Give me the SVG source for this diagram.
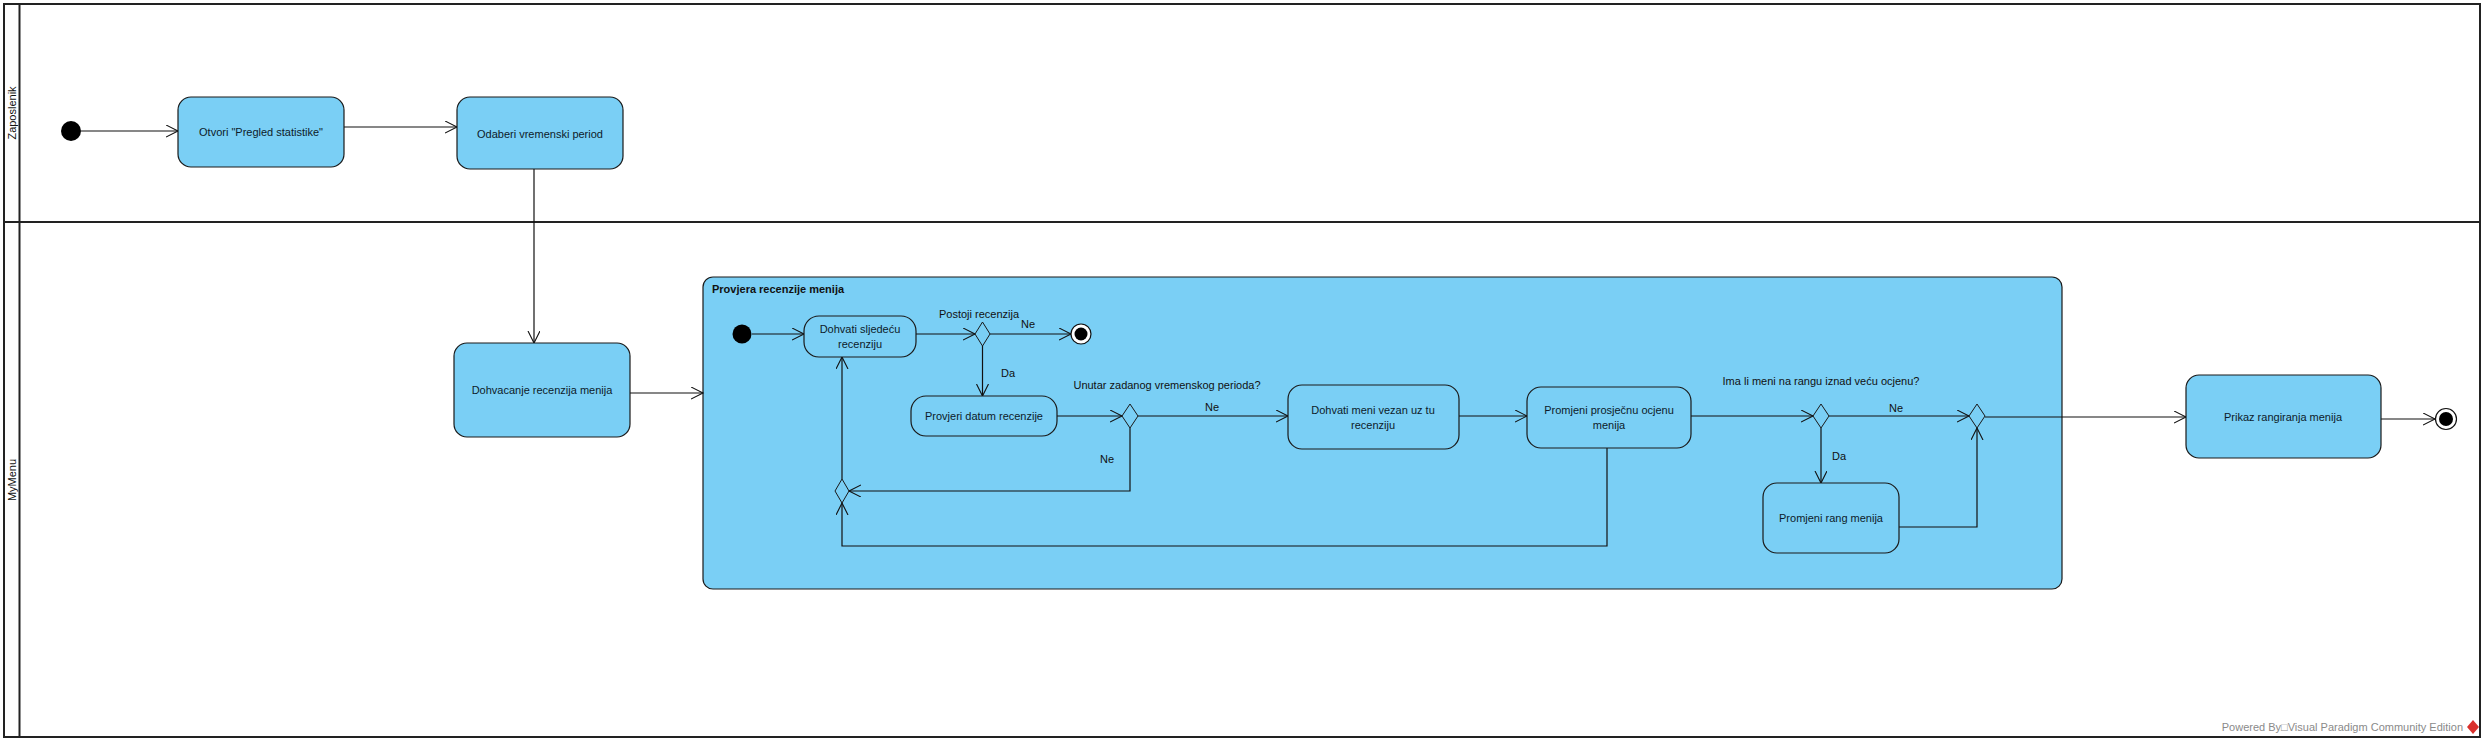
<svg xmlns="http://www.w3.org/2000/svg" width="2485" height="742" viewBox="0 0 2485 742">
<defs>
<style>
.lane{fill:none;stroke:#222;stroke-width:2}
.act{fill:#7ACFF5;stroke:#1a1a1a;stroke-width:1.2}
.dec{fill:#7ACFF5;stroke:#1a1a1a;stroke-width:1}
.t{font-family:"Liberation Sans",Arial,sans-serif;font-size:11px;fill:#0d1b2a;text-anchor:middle}
.lbl{font-family:"Liberation Sans",Arial,sans-serif;font-size:11px;fill:#111;text-anchor:middle}
.title{font-family:"Liberation Sans",Arial,sans-serif;font-size:11px;font-weight:bold;fill:#111}
.conn{fill:none;stroke:#111;stroke-width:1.2}
.wm{font-family:"Liberation Sans",Arial,sans-serif;font-size:11px;fill:#8a8a8a;text-anchor:end}
</style>
<marker id="arr" markerUnits="userSpaceOnUse" markerWidth="14" markerHeight="14" refX="12" refY="6" orient="auto">
<path d="M0,0 L12,6 L0,12" fill="none" stroke="#111" stroke-width="1.1"/>
</marker>
</defs>
<rect width="2485" height="742" fill="#fff"/>

<g id="swimlanes">
<rect class="lane" x="4" y="4" width="2476" height="733"/>
<line class="lane" x1="19.5" y1="4" x2="19.5" y2="737"/>
<line class="lane" x1="4" y1="222" x2="2480" y2="222"/>
<text class="t" transform="translate(16,113) rotate(-90)" style="fill:#111">Zaposlenik</text>
<text class="t" transform="translate(16,480) rotate(-90)" style="fill:#111">MyMenu</text>
</g>

<g id="container-provjera">
<rect class="act" x="703" y="277" width="1359" height="312" rx="10"/>
<text class="title" x="712" y="293">Provjera recenzije menija</text>
</g>

<g id="connectors">
<line class="conn" x1="81" y1="131" x2="178" y2="131" marker-end="url(#arr)"/>
<line class="conn" x1="344" y1="127" x2="457" y2="127" marker-end="url(#arr)"/>
<line class="conn" x1="534" y1="169" x2="534" y2="343" marker-end="url(#arr)"/>
<line class="conn" x1="630" y1="393" x2="703" y2="393" marker-end="url(#arr)"/>
<line class="conn" x1="752" y1="334" x2="804" y2="334" marker-end="url(#arr)"/>
<line class="conn" x1="916" y1="334" x2="975" y2="334" marker-end="url(#arr)"/>
<line class="conn" x1="990" y1="334" x2="1071" y2="334" marker-end="url(#arr)"/>
<line class="conn" x1="982.5" y1="346" x2="982.5" y2="396" marker-end="url(#arr)"/>
<line class="conn" x1="1057" y1="416" x2="1122" y2="416" marker-end="url(#arr)"/>
<line class="conn" x1="1138" y1="416" x2="1288" y2="416" marker-end="url(#arr)"/>
<polyline class="conn" points="1130,428 1130,491 849,491" marker-end="url(#arr)"/>
<line class="conn" x1="1459" y1="416" x2="1527" y2="416" marker-end="url(#arr)"/>
<polyline class="conn" points="1607,448 1607,546 842,546 842,503" marker-end="url(#arr)"/>
<line class="conn" x1="842" y1="479" x2="842" y2="357" marker-end="url(#arr)"/>
<line class="conn" x1="1691" y1="416" x2="1813" y2="416" marker-end="url(#arr)"/>
<line class="conn" x1="1829" y1="416" x2="1969" y2="416" marker-end="url(#arr)"/>
<line class="conn" x1="1821" y1="428" x2="1821" y2="483" marker-end="url(#arr)"/>
<polyline class="conn" points="1899,527 1977,527 1977,428" marker-end="url(#arr)"/>
<line class="conn" x1="1985" y1="417" x2="2186" y2="417" marker-end="url(#arr)"/>
<line class="conn" x1="2381" y1="419" x2="2435" y2="419" marker-end="url(#arr)"/>
<text class="lbl" x="979" y="318">Postoji recenzija</text>
<text class="lbl" x="1028" y="328">Ne</text>
<text class="lbl" x="1008" y="377">Da</text>
<text class="lbl" x="1167" y="389">Unutar zadanog vremenskog perioda?</text>
<text class="lbl" x="1212" y="411">Ne</text>
<text class="lbl" x="1107" y="463">Ne</text>
<text class="lbl" x="1821" y="385">Ima li meni na rangu iznad veću ocjenu?</text>
<text class="lbl" x="1896" y="412">Ne</text>
<text class="lbl" x="1839" y="460">Da</text>
</g>

<g id="start1"><circle cx="71" cy="131" r="10" fill="#000"/></g>
<g id="otvori">
<rect class="act" x="178" y="97" width="166" height="70" rx="13"/>
<text class="t" x="261" y="136">Otvori "Pregled statistike"</text>
</g>
<g id="odaberi">
<rect class="act" x="457" y="97" width="166" height="72" rx="13"/>
<text class="t" x="540" y="138">Odaberi vremenski period</text>
</g>
<g id="dohvacanje">
<rect class="act" x="454" y="343" width="176" height="94" rx="13"/>
<text class="t" x="542" y="394">Dohvacanje recenzija menija</text>
</g>

<g id="start2"><circle cx="742" cy="334" r="9.5" fill="#000"/></g>
<g id="dohvati-sljedecu">
<rect class="act" x="804" y="316" width="112" height="41" rx="15"/>
<text class="t" x="860" y="333">Dohvati sljedeću</text>
<text class="t" x="860" y="348">recenziju</text>
</g>
<g id="dec1"><polygon class="dec" points="982.5,322 990,334 982.5,346 975,334"/></g>
<g id="end1">
<circle cx="1081" cy="334" r="10" fill="#fff" stroke="#111" stroke-width="1.2"/>
<circle cx="1081" cy="334" r="6.5" fill="#000"/>
</g>
<g id="provjeri-datum">
<rect class="act" x="911" y="396" width="146" height="40" rx="15"/>
<text class="t" x="984" y="420">Provjeri datum recenzije</text>
</g>
<g id="dec2"><polygon class="dec" points="1130,404 1138,416 1130,428 1122,416"/></g>
<g id="merge-loop"><polygon class="dec" points="842,479 849,491 842,503 835,491"/></g>
<g id="dohvati-meni">
<rect class="act" x="1288" y="385" width="171" height="64" rx="14"/>
<text class="t" x="1373" y="414">Dohvati meni vezan uz tu</text>
<text class="t" x="1373" y="429">recenziju</text>
</g>
<g id="promjeni-ocjenu">
<rect class="act" x="1527" y="387" width="164" height="61" rx="14"/>
<text class="t" x="1609" y="414">Promjeni prosječnu ocjenu</text>
<text class="t" x="1609" y="429">menija</text>
</g>
<g id="dec3"><polygon class="dec" points="1821,404 1829,416 1821,428 1813,416"/></g>
<g id="merge2"><polygon class="dec" points="1977,404 1985,416 1977,428 1969,416"/></g>
<g id="promjeni-rang">
<rect class="act" x="1763" y="483" width="136" height="70" rx="14"/>
<text class="t" x="1831" y="522">Promjeni rang menija</text>
</g>

<g id="prikaz">
<rect class="act" x="2186" y="375" width="195" height="83" rx="13"/>
<text class="t" x="2283" y="421">Prikaz rangiranja menija</text>
</g>
<g id="end2">
<circle cx="2446" cy="419" r="10.5" fill="#fff" stroke="#111" stroke-width="1.2"/>
<circle cx="2446" cy="419" r="7" fill="#000"/>
</g>

<g id="watermark">
<text class="wm" x="2463" y="731">Powered By□Visual Paradigm Community Edition</text>
<polygon points="2473,720 2479,727 2473,734 2467,727" fill="#d9302c"/>
</g>
</svg>
